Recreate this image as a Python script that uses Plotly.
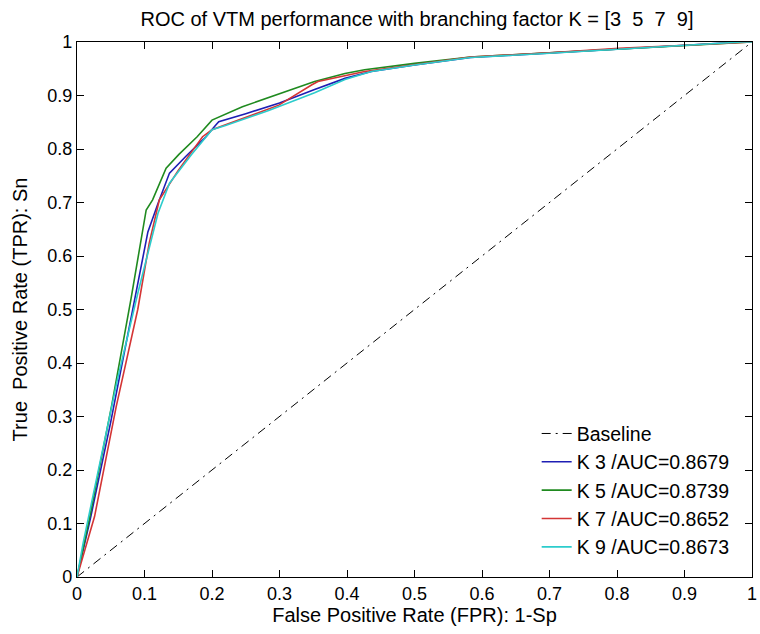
import plotly.graph_objects as go

# ---- data ----
base_fpr = [0, 1]
base_tpr = [0, 1]

k3_fpr = [0, 0.02, 0.05, 0.08, 0.105, 0.12, 0.137, 0.161, 0.191, 0.205, 0.21, 0.25, 0.30, 0.352, 0.397, 0.436, 0.50, 0.583, 0.70, 0.803, 0.901, 0.985, 1.0]
k3_tpr = [0, 0.11, 0.29, 0.48, 0.645, 0.698, 0.755, 0.786, 0.823, 0.844, 0.851, 0.866, 0.886, 0.911, 0.932, 0.945, 0.957, 0.971, 0.979, 0.987, 0.994, 1.0, 1.0]

k5_fpr = [0, 0.019, 0.051, 0.08, 0.1025, 0.112, 0.132, 0.151, 0.178, 0.20, 0.245, 0.294, 0.352, 0.397, 0.426, 0.50, 0.583, 0.70, 0.803, 0.901, 0.985, 1.0]
k5_tpr = [0, 0.113, 0.318, 0.52, 0.686, 0.705, 0.764, 0.79, 0.823, 0.854, 0.879, 0.90, 0.926, 0.941, 0.948, 0.96, 0.972, 0.98, 0.987, 0.994, 1.0, 1.0]

k7_fpr = [0, 0.026, 0.058, 0.09, 0.107, 0.122, 0.15, 0.186, 0.20, 0.245, 0.299, 0.348, 0.357, 0.426, 0.50, 0.583, 0.70, 0.803, 0.901, 0.985, 1.0]
k7_tpr = [0, 0.113, 0.318, 0.50, 0.624, 0.705, 0.76, 0.823, 0.836, 0.857, 0.882, 0.92, 0.926, 0.945, 0.958, 0.972, 0.98, 0.988, 0.994, 1.0, 1.0]

k9_fpr = [0, 0.009, 0.03, 0.06, 0.09, 0.11, 0.12, 0.137, 0.17, 0.20, 0.22, 0.284, 0.352, 0.397, 0.436, 0.50, 0.583, 0.70, 0.803, 0.901, 0.985, 1.0]
k9_tpr = [0, 0.063, 0.19, 0.37, 0.53, 0.63, 0.68, 0.736, 0.79, 0.836, 0.844, 0.872, 0.905, 0.93, 0.945, 0.957, 0.971, 0.979, 0.987, 0.994, 1.0, 1.0]

series_names = ["K 3 /AUC=0.8679", "K 5 /AUC=0.8739", "K 7 /AUC=0.8652", "K 9 /AUC=0.8673"]
series_colors = ["#1e1eb4", "#1f8a1f", "#d43535", "#2ccccc"]

tick_vals = [0, 0.1, 0.2, 0.3, 0.4, 0.5, 0.6, 0.7, 0.8, 0.9, 1]
tick_text = ["0", "0.1", "0.2", "0.3", "0.4", "0.5", "0.6", "0.7", "0.8", "0.9", "1"]

FONT = "Liberation Sans, Arial, sans-serif"

fig = go.Figure()
fig.add_trace(go.Scatter(x=base_fpr, y=base_tpr, mode="lines", name="Baseline",
                         line=dict(color="black", width=1, dash="9px,5px,2px,5px")))
for xs, ys, nm, col in zip([k3_fpr, k5_fpr, k7_fpr, k9_fpr],
                           [k3_tpr, k5_tpr, k7_tpr, k9_tpr],
                           series_names, series_colors):
    fig.add_trace(go.Scatter(x=xs, y=ys, mode="lines", name=nm,
                             line=dict(color=col, width=1.6)))

axis_common = dict(range=[0, 1], tickmode="array", tickvals=tick_vals, ticktext=tick_text,
                   ticks="inside", ticklen=7, tickwidth=1, tickcolor="black",
                   showline=True, linecolor="black", linewidth=1.2, mirror="ticks",
                   showgrid=False, zeroline=False, ticklabeloverflow="allow",
                   tickfont=dict(family=FONT, size=18, color="black"))

fig.update_layout(
    width=760, height=634,
    margin=dict(l=77, r=3, t=42, b=57),
    paper_bgcolor="white", plot_bgcolor="white",
    title=dict(text="ROC of VTM performance with branching factor K = [3\u00a0\u00a05\u00a0\u00a07\u00a0\u00a09]",
               x=(77 + 757) / 2 / 760, xanchor="center", y=1 - 19 / 634, yanchor="middle",
               font=dict(family=FONT, size=20, color="black")),
    xaxis=dict(**axis_common,
               title=dict(text="False Positive Rate (FPR): 1-Sp", standoff=4,
                          font=dict(family=FONT, size=20, color="black"))),
    yaxis=dict(**axis_common,
               title=dict(text="True\u00a0\u00a0Positive Rate (TPR): Sn", standoff=14,
                          font=dict(family=FONT, size=20, color="black"))),
    legend=dict(x=0.681, xanchor="left", y=0.02, yanchor="bottom",
                bgcolor="rgba(255,255,255,0)", borderwidth=0,
                font=dict(family=FONT, size=19.5, color="black"),
                tracegroupgap=0),
    showlegend=True,
)

fig.write_html("out.html")
